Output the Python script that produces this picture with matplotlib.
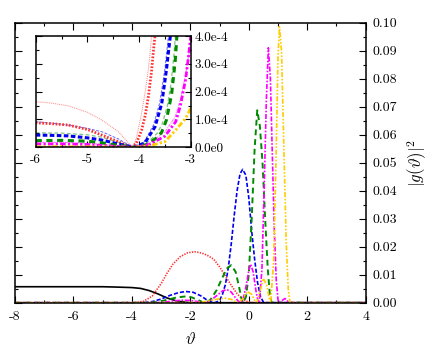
import matplotlib
matplotlib.use('Agg')
import matplotlib.pyplot as plt
from matplotlib.ticker import MultipleLocator

plt.rcParams['font.family'] = 'serif'
plt.rcParams['font.serif'] = ['cmr10']
plt.rcParams['mathtext.fontset'] = 'cm'
plt.rcParams['axes.unicode_minus'] = False

# main curves, |g(theta)|^2
black_x = [-8, -6, -5, -4.6, -4.3, -4.0, -3.7, -3.4, -3.1, -2.8, -2.5, -2.2, -2.0, 4]
black_y = [0.0057, 0.0057, 0.0057, 0.0056, 0.0055, 0.0054, 0.0051, 0.0043, 0.0031, 0.0017, 0.0007, 0.0002, 0.0, 0.0]

red_x = [-8, -3.9, -3.6, -3.3, -3.0, -2.8, -2.6, -2.35, -2.1, -1.85, -1.6, -1.4, -1.2, -1.0,
         -0.8, -0.6, -0.4, -0.2, 0.0, 0.2, 4]
red_y = [0, 0, 0.0005, 0.0024, 0.0068, 0.0105, 0.0137, 0.0164, 0.0178, 0.0182, 0.0177, 0.0168,
         0.0155, 0.0128, 0.0095, 0.0062, 0.0032, 0.0011, 0.0002, 0, 0]

blue_x = [-8, -3.6, -3.3, -3.0, -2.7, -2.4, -2.15, -1.9, -1.65, -1.45, -1.25, -1.15, -1.0, -0.9,
          -0.8, -0.7, -0.6, -0.5, -0.4, -0.3, -0.21, -0.1, 0.0, 0.1, 0.2, 0.3, 0.4, 0.5, 0.6, 4]
blue_y = [0, 0, 0.0004, 0.0013, 0.0026, 0.0036, 0.0040, 0.0037, 0.0025, 0.0011, 0.0001, 0, 0.0008,
          0.003, 0.0065, 0.0125, 0.021, 0.031, 0.040, 0.046, 0.0476, 0.0455, 0.0375, 0.0255,
          0.0155, 0.0072, 0.0022, 0.0002, 0, 0]

green_x = [-8, -3.4, -3.1, -2.8, -2.5, -2.2, -1.95, -1.75, -1.55, -1.45, -1.3, -1.1, -0.9, -0.75,
           -0.6, -0.45, -0.35, -0.25, -0.2, -0.1, 0.0, 0.1, 0.2, 0.29, 0.38, 0.47, 0.56, 0.65,
           0.72, 0.78, 4]
green_y = [0, 0, 0.0003, 0.0010, 0.0018, 0.0022, 0.0019, 0.0010, 0.0001, 0, 0.0012, 0.0045, 0.009,
           0.0122, 0.0134, 0.011, 0.0065, 0.0015, 0, 0.002, 0.010, 0.030, 0.055, 0.0687, 0.063,
           0.050, 0.030, 0.012, 0.003, 0, 0]

magenta_x = [-8, -3.2, -2.9, -2.6, -2.3, -2.0, -1.75, -1.55, -1.45, -1.3, -1.1, -0.9, -0.75, -0.6,
             -0.45, -0.35, -0.28, -0.2, -0.1, 0.0, 0.06, 0.15, 0.25, 0.32, 0.36, 0.45, 0.53, 0.6,
             0.67, 0.74, 0.8, 0.87, 0.94, 1.0, 1.04, 1.14, 1.24, 1.34, 1.44, 4]
magenta_y = [0, 0, 0.0002, 0.0006, 0.0009, 0.0008, 0.0004, 0.0001, 0, 0.0008, 0.0025, 0.0042,
             0.0047, 0.0038, 0.0017, 0.0004, 0, 0.001, 0.0055, 0.0115, 0.0138, 0.011, 0.004,
             0.0003, 0, 0.012, 0.042, 0.072, 0.091, 0.080, 0.055, 0.027, 0.008, 0.001, 0,
             0.0008, 0.0015, 0.0004, 0, 0]

yellow_x = [-8, -3.0, -1.9, -1.6, -1.3, -1.0, -0.8, -0.6, -0.45, -0.35, -0.2, -0.05, 0.1, 0.2,
            0.28, 0.38, 0.5, 0.62, 0.7, 0.75, 0.85, 0.93, 1.0, 1.05, 1.12, 1.21, 1.28, 1.35,
            1.41, 4]
yellow_y = [0, 0, 0.00005, 0.0002, 0.0008, 0.0014, 0.0016, 0.0012, 0.0004, 0, 0.0015, 0.004,
            0.003, 0.0008, 0, 0.004, 0.0087, 0.006, 0.0015, 0, 0.015, 0.050, 0.088, 0.0985,
            0.090, 0.051, 0.022, 0.005, 0, 0]

# inset (zoom on -6..-3), thick = first set, thin = second set
ins_red_x = [-6, -5.7, -5.37, -5.0, -4.72, -4.4, -4.25, -4.14, -4.05, -3.95, -3.88, -3.82, -3.76, -3.72, -3.68]
ins_red_y = [0.88e-4, 0.85e-4, 0.80e-4, 0.64e-4, 0.44e-4, 0.20e-4, 0.08e-4, 0.0, 0.15e-4, 0.62e-4,
             1.15e-4, 1.82e-4, 2.7e-4, 3.5e-4, 4.2e-4]
ins_red2_x = [-6, -5.7, -5.37, -5.0, -4.72, -4.4, -4.2, -4.12, -4.05, -3.95, -3.88, -3.82, -3.78, -3.75]
ins_red2_y = [1.64e-4, 1.59e-4, 1.49e-4, 1.26e-4, 0.98e-4, 0.56e-4, 0.15e-4, 0.0, 0.35e-4, 1.23e-4,
              2.0e-4, 2.8e-4, 3.5e-4, 4.2e-4]
ins_blue_x = [-6, -5.7, -5.37, -5.0, -4.72, -4.4, -4.1, -3.89, -3.69, -3.56, -3.47, -3.42, -3.38]
ins_blue_y = [0.44e-4, 0.43e-4, 0.41e-4, 0.34e-4, 0.26e-4, 0.12e-4, 0.0, 0.15e-4, 0.74e-4,
              1.58e-4, 2.78e-4, 3.6e-4, 4.2e-4]
ins_blue2_x = [-6, -5.7, -5.37, -5.0, -4.72, -4.4, -4.12, -3.9, -3.72, -3.6, -3.5, -3.46, -3.42]
ins_blue2_y = [0.92e-4, 0.87e-4, 0.80e-4, 0.68e-4, 0.56e-4, 0.30e-4, 0.0, 0.2e-4, 0.8e-4,
               1.6e-4, 2.8e-4, 3.5e-4, 4.2e-4]
ins_green_x = [-6, -5.5, -5.0, -4.72, -4.4, -4.1, -3.85, -3.65, -3.56, -3.47, -3.37, -3.3, -3.26]
ins_green_y = [0.24e-4, 0.25e-4, 0.22e-4, 0.16e-4, 0.07e-4, 0.0, 0.1e-4, 0.35e-4, 0.55e-4,
               0.98e-4, 1.9e-4, 3.1e-4, 4.2e-4]
ins_green2_x = [-6, -5.5, -5.0, -4.72, -4.4, -4.12, -3.85, -3.65, -3.55, -3.45, -3.38, -3.32, -3.29]
ins_green2_y = [0.52e-4, 0.51e-4, 0.45e-4, 0.36e-4, 0.18e-4, 0.0, 0.15e-4, 0.5e-4, 0.85e-4,
                1.5e-4, 2.3e-4, 3.4e-4, 4.2e-4]
ins_magenta_x = [-6, -5.5, -5.0, -4.5, -4.1, -3.8, -3.5, -3.29, -3.2, -3.1, -3.04, -3.0]
ins_magenta_y = [0.12e-4, 0.12e-4, 0.10e-4, 0.04e-4, 0.0, 0.1e-4, 0.4e-4, 0.92e-4, 1.5e-4,
                 2.42e-4, 3.3e-4, 4.0e-4]
ins_magenta2_x = [-6, -5.5, -5.0, -4.5, -4.12, -3.8, -3.5, -3.3, -3.2, -3.1, -3.0]
ins_magenta2_y = [0.18e-4, 0.18e-4, 0.15e-4, 0.07e-4, 0.0, 0.15e-4, 0.55e-4, 1.1e-4, 1.7e-4,
                  2.6e-4, 3.8e-4]
ins_yellow_x = [-6, -5.0, -4.5, -4.1, -3.8, -3.5, -3.29, -3.1, -3.0]
ins_yellow_y = [0.02e-4, 0.02e-4, 0.01e-4, 0.0, 0.05e-4, 0.2e-4, 0.62e-4, 1.04e-4, 1.4e-4]

main_xticks = [-8, -6, -4, -2, 0, 2, 4]
main_yticks = [0.0, 0.01, 0.02, 0.03, 0.04, 0.05, 0.06, 0.07, 0.08, 0.09, 0.10]
main_ylabels = ['0.00', '0.01', '0.02', '0.03', '0.04', '0.05', '0.06', '0.07', '0.08', '0.09', '0.10']
ins_xticks = [-6, -5, -4, -3]
ins_yticks = [0, 1e-4, 2e-4, 3e-4, 4e-4]
ins_ylabels = ['0.0e0', '1.0e-4', '2.0e-4', '3.0e-4', '4.0e-4']

RED = '#ff3030'
BLUE = '#0000ee'
GREEN = '#008a00'
MAG = '#ff00ff'
YEL = '#ffcc00'

fig = plt.figure(figsize=(4.37, 3.53), dpi=100)
ax = fig.add_axes([0.0343, 0.1425, 0.8025, 0.7935])

ax.plot(black_x, black_y, color='black', lw=1.2, ls='-')
ax.plot(red_x, red_y, color=RED, lw=1.2, ls=(0, (0.8, 0.8)))
ax.plot(blue_x, blue_y, color=BLUE, lw=1.2, ls=(0, (2.5, 1.2)))
ax.plot(green_x, green_y, color=GREEN, lw=1.4, ls=(0, (3, 2)))
ax.plot(magenta_x, magenta_y, color=MAG, lw=1.2, ls=(0, (3, 1, 1, 1)))
ax.plot(yellow_x, yellow_y, color=YEL, lw=1.2, ls=(0, (3, 1, 1, 1, 1, 1)))

ax.set_xlim(-8, 4)
ax.set_ylim(0, 0.10)
ax.set_xticks(main_xticks)
ax.set_xticklabels([str(t) for t in main_xticks])
ax.set_yticks(main_yticks)
ax.set_yticklabels(main_ylabels)
ax.xaxis.set_minor_locator(MultipleLocator(1))
ax.yaxis.set_minor_locator(MultipleLocator(0.005))
ax.tick_params(which='both', direction='in', top=True, right=True, left=True,
               labelleft=False, labelright=True, labelsize=10, width=0.8)
ax.tick_params(axis='x', pad=6)
ax.tick_params(axis='y', pad=5)
ax.tick_params(which='major', length=5)
ax.tick_params(which='minor', length=2.5)
ax.yaxis.set_label_position('right')
ax.set_ylabel(r'$|g(\vartheta)|^2$', fontsize=12, labelpad=6)
ax.set_xlabel(r'$\vartheta$', fontsize=12, labelpad=6)
for s in ax.spines.values():
    s.set_linewidth(1.1)

# inset
ins = fig.add_axes([0.0817, 0.5827, 0.3547, 0.3153])
ins.plot(ins_red2_x, ins_red2_y, color=RED, lw=0.7, alpha=0.6, ls=(0, (1, 1)))
ins.plot(ins_blue2_x, ins_blue2_y, color=BLUE, lw=0.7, alpha=0.6, ls=(0, (3, 1.5)))
ins.plot(ins_green2_x, ins_green2_y, color=GREEN, lw=0.9, alpha=0.5, ls=(0, (3, 2)))
ins.plot(ins_magenta2_x, ins_magenta2_y, color=MAG, lw=0.7, alpha=0.6, ls=(0, (3, 1, 1, 1)))
ins.plot(ins_red_x, ins_red_y, color=RED, lw=2.0, ls=(0, (0.6, 0.6)))
ins.plot(ins_blue_x, ins_blue_y, color=BLUE, lw=2.2, ls=(0, (1.5, 0.8)))
ins.plot(ins_green_x, ins_green_y, color=GREEN, lw=2.2, ls=(0, (2, 1.5)))
ins.plot(ins_magenta_x, ins_magenta_y, color=MAG, lw=2.0, ls=(0, (2, 0.8, 0.8, 0.8)))
ins.plot(ins_yellow_x, ins_yellow_y, color=YEL, lw=2.0, ls=(0, (2, 0.8, 0.8, 0.8, 0.8, 0.8)))

ins.set_xlim(-6, -3)
ins.set_ylim(0, 4e-4)
ins.set_xticks(ins_xticks)
ins.set_xticklabels([str(t) for t in ins_xticks])
ins.set_yticks(ins_yticks)
ins.set_yticklabels(ins_ylabels)
ins.xaxis.set_minor_locator(MultipleLocator(0.5))
ins.yaxis.set_minor_locator(MultipleLocator(0.5e-4))
ins.tick_params(which='both', direction='in', top=True, right=True, left=True,
                labelleft=False, labelright=True, labelsize=9.5, width=0.8, pad=3)
ins.tick_params(axis='x', pad=5)
ins.tick_params(which='major', length=4)
ins.tick_params(which='minor', length=2)
for s in ins.spines.values():
    s.set_linewidth(1.1)

fig.savefig('out.png', dpi=100)
